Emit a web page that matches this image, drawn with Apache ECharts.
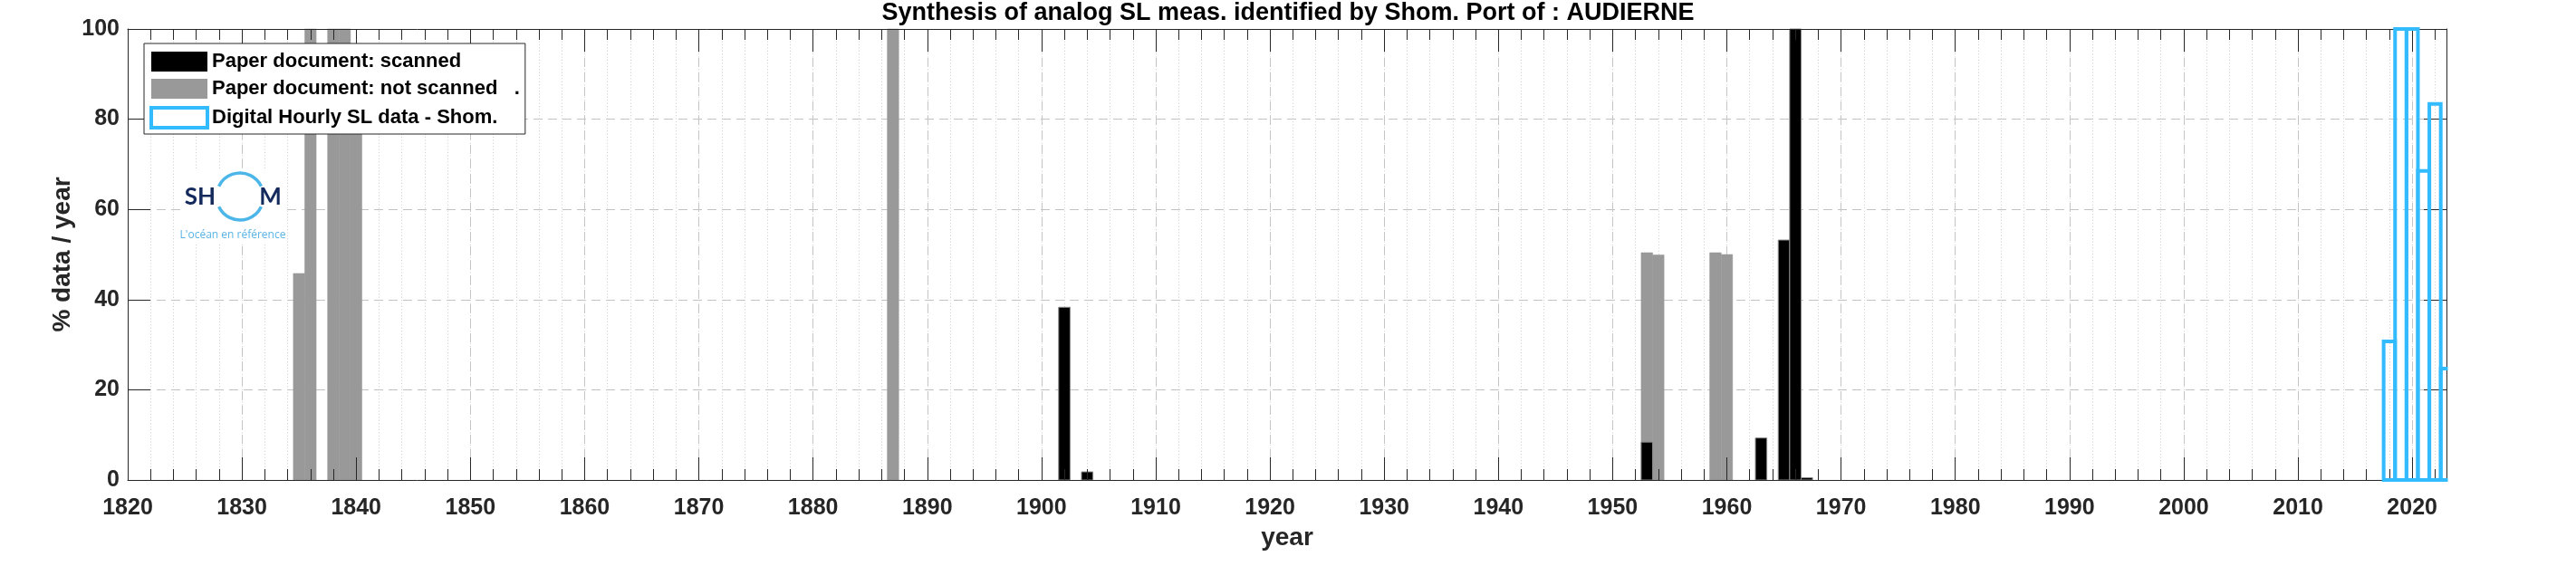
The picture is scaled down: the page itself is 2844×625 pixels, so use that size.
<!DOCTYPE html>
<html><head><meta charset="utf-8">
<script src="https://cdn.jsdelivr.net/npm/echarts@6/dist/echarts.min.js"></script>
<style>html,body{margin:0;padding:0;background:#fff}#c{width:2844px;height:625px}</style>
</head><body><div id="c"></div>
<script>
// ---------------- data ----------------
const titleText = 'Synthesis of analog SL meas. identified by Shom. Port of : AUDIERNE';
const seriesNames = ['Paper document: scanned', 'Paper document: not scanned   .', 'Digital Hourly SL data - Shom.'];
const scannedYears = [1902, 1904, 1953, 1963, 1965, 1966, 1967];
const scannedValues = [38.3, 1.8, 8.4, 9.3, 53.2, 100, 0.5];
const notScannedYears = [1835, 1836, 1838, 1839, 1840, 1887, 1953, 1954, 1959, 1960];
const notScannedValues = [45.8, 100, 100, 100, 88, 100, 50.4, 49.9, 50.4, 50.0];
const digitalYears = [2018, 2019, 2020, 2021, 2022, 2023];
const digitalValues = [30.7, 100, 100, 68.5, 83.4, 24.7];
const xMin = 1820, xMax = 2023, xMajor = 10, xMinor = 2;
const yMin = 0, yMax = 100, yMajor = 20;
const xName = 'year', yName = '% data / year';
const logoMain = ['SH', 'M'], logoTagline = "L'océan en référence";

// ---------------- styles ----------------
const FONT = '"Liberation Sans", Arial, Helvetica, sans-serif';
const AX = '#262626';
const BLACK = '#000000', GRAY = '#999999', BLUE = '#33bbff';

const chart = echarts.init(document.getElementById('c'), null, {renderer: 'canvas'});

function makeRender(kind) {
  return function (params, api) {
    const year = api.value(0), val = api.value(1);
    const cs = params.coordSys;
    const tl = api.coord([year - 0.5, val]);
    const br = api.coord([year + 0.5, 0]);
    const x0 = Math.max(tl[0], cs.x), x1 = Math.min(br[0], cs.x + cs.width);
    if (x1 <= x0) return;
    const y0 = tl[1], y1 = br[1];
    if (kind === 'digital') {
      if (br[0] > cs.x + cs.width + 0.01) {
        return {type: 'polyline', shape: {points: [[x1 + 1.5, y1], [x0, y1], [x0, y0], [x1 + 1.5, y0]]},
          style: {stroke: BLUE, lineWidth: 4, fill: 'none'}};
      }
      return {type: 'rect', shape: {x: x0, y: y0, width: x1 - x0, height: y1 - y0},
        style: {fill: 'none', stroke: BLUE, lineWidth: 4}};
    }
    if (kind === 'scanned') {
      return {type: 'rect', shape: {x: x0, y: y0, width: x1 - x0, height: y1 - y0},
        style: {fill: BLACK, stroke: '#8a8a8a', lineWidth: 1}};
    }
    return {type: 'rect', shape: {x: x0, y: y0, width: x1 - x0, height: y1 - y0},
      style: {fill: GRAY, stroke: GRAY, lineWidth: 0.5}};
  };
}

function xAx(extra) {
  return Object.assign({type: 'value', min: xMin, max: xMax, interval: xMajor, position: 'bottom',
    axisLine: {show: false, onZero: false}, axisTick: {show: false}, axisLabel: {show: false},
    splitLine: {show: false}, z: 0}, extra);
}
function yAx(extra) {
  return Object.assign({type: 'value', min: yMin, max: yMax, interval: yMajor, position: 'left',
    axisLine: {show: false, onZero: false}, axisTick: {show: false}, axisLabel: {show: false},
    splitLine: {show: false}, z: 0}, extra);
}
const axisLineOn = {show: true, onZero: false, lineStyle: {color: AX, width: 1}};
const labelStyle = {fontFamily: FONT, fontSize: 25, fontWeight: 'bold', color: AX, formatter: v => String(v)};
const nameStyle = {fontFamily: FONT, fontSize: 28, fontWeight: 'bold', color: AX};

const option = {
  backgroundColor: '#ffffff',
  animation: false,
  title: {text: titleText, left: 'center', top: -4,
    textStyle: {fontFamily: FONT, fontSize: 27, fontWeight: 'bold', color: '#000'}},
  grid: {left: 141, top: 32, right: 143, bottom: 95, containLabel: false, outerBoundsMode: 'none'},
  legend: {
    left: 159, top: 48, orient: 'vertical',
    itemWidth: 62, itemHeight: 22, itemGap: 8,
    padding: [9, 6, 5, 6],
    backgroundColor: '#ffffff', borderColor: AX, borderWidth: 1,
    textStyle: {fontFamily: FONT, fontSize: 22, fontWeight: 'bold', color: '#000'},
    z: 20,
    data: [
      {name: seriesNames[0], icon: 'rect', itemStyle: {color: BLACK, borderWidth: 0}},
      {name: seriesNames[1], icon: 'rect', itemStyle: {color: GRAY, borderWidth: 0}},
      {name: seriesNames[2], icon: 'rect', itemStyle: {color: '#ffffff', borderColor: BLUE, borderWidth: 4}}
    ]
  },
  xAxis: [
    xAx({axisLine: axisLineOn, axisTick: {show: true, inside: true, length: 25, lineStyle: {color: AX}},
      axisLabel: Object.assign({show: true, margin: 19, showMaxLabel: false}, labelStyle),
      name: xName, nameLocation: 'middle', nameGap: 50, nameMoveOverlap: false, nameTextStyle: nameStyle, z: 5}),
    xAx({splitLine: {show: true, lineStyle: {color: '#c2c2c2', width: 1, type: [10, 6]}}}),
    xAx({interval: xMinor, splitLine: {show: true, lineStyle: {color: '#cccccc', width: 1, type: [1, 2.4]}}}),
    xAx({interval: xMinor, axisTick: {show: true, inside: true, length: 12, lineStyle: {color: AX}}, z: 5}),
    xAx({position: 'top', axisLine: axisLineOn, axisTick: {show: true, inside: true, length: 25, lineStyle: {color: AX}}, z: 5}),
    xAx({position: 'top', interval: xMinor, axisTick: {show: true, inside: true, length: 12, lineStyle: {color: AX}}, z: 5})
  ],
  yAxis: [
    yAx({axisLine: axisLineOn, axisTick: {show: true, inside: true, length: 25, lineStyle: {color: AX}},
      axisLabel: Object.assign({show: true, margin: 9}, labelStyle),
      name: yName, nameLocation: 'middle', nameGap: 58, nameRotate: 90, nameMoveOverlap: false, nameTextStyle: nameStyle, z: 5}),
    yAx({splitLine: {show: true, lineStyle: {color: '#c2c2c2', width: 1, type: [10, 6]}}}),
    yAx({position: 'right', axisLine: axisLineOn, axisTick: {show: true, inside: true, length: 25, lineStyle: {color: AX}}, z: 5})
  ],
  series: [
    {type: 'custom', name: seriesNames[1], xAxisIndex: 0, yAxisIndex: 0, z: 2,
      itemStyle: {color: GRAY}, renderItem: makeRender('notScanned'),
      data: notScannedYears.map((y, i) => [y, notScannedValues[i]])},
    {type: 'custom', name: seriesNames[0], xAxisIndex: 0, yAxisIndex: 0, z: 3,
      itemStyle: {color: BLACK}, renderItem: makeRender('scanned'),
      data: scannedYears.map((y, i) => [y, scannedValues[i]])},
    {type: 'custom', name: seriesNames[2], xAxisIndex: 0, yAxisIndex: 0, z: 6,
      itemStyle: {color: BLUE}, renderItem: makeRender('digital'),
      data: digitalYears.map((y, i) => [y, digitalValues[i]])}
  ],
  graphic: [
    {type: 'rect', z: 10, shape: {x: 200, y: 188, width: 113, height: 80}, style: {fill: '#ffffff'}},
    {type: 'arc', z: 11, shape: {cx: 265, cy: 217, r: 26, startAngle: Math.PI + 0.45, endAngle: 2 * Math.PI - 0.45},
      style: {stroke: '#4db6e8', lineWidth: 3.5, fill: 'none'}},
    {type: 'arc', z: 11, shape: {cx: 265, cy: 217, r: 26, startAngle: 0.45, endAngle: Math.PI - 0.45},
      style: {stroke: '#4db6e8', lineWidth: 3.5, fill: 'none'}},
    {type: 'text', z: 12, style: {text: logoMain[0], x: 221, y: 218, align: 'center', verticalAlign: 'middle',
      font: 'bold 26px Lato, "Open Sans", sans-serif', fill: '#142a5c'}},
    {type: 'text', z: 12, style: {text: logoMain[1], x: 298.5, y: 218, align: 'center', verticalAlign: 'middle',
      font: 'bold 26px Lato, "Open Sans", sans-serif', fill: '#142a5c'}},
    {type: 'text', z: 12, style: {text: logoTagline, x: 257, y: 259.5, align: 'center', verticalAlign: 'middle',
      font: '12px "Open Sans", sans-serif', fill: '#5ab4e5'}}
  ]
};
chart.setOption(option);
</script>
</body></html>
